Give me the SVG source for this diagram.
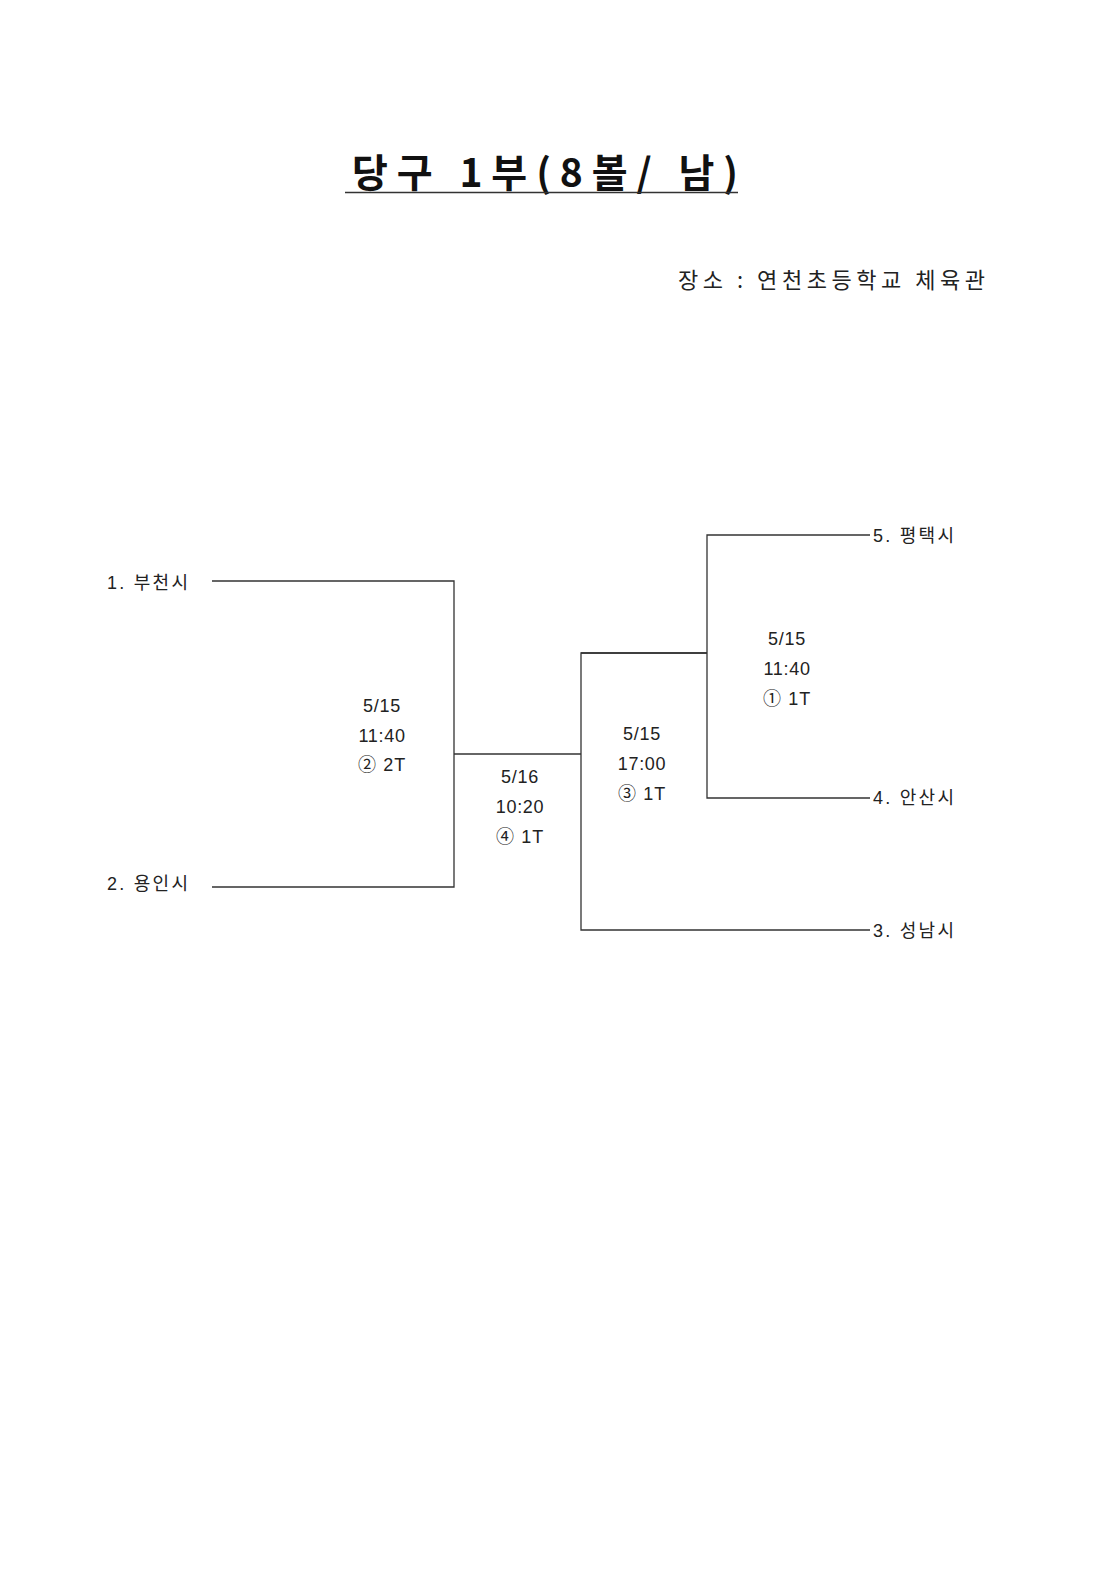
<svg xmlns="http://www.w3.org/2000/svg" width="1120" height="1584" viewBox="0 0 1120 1584">
<style>
.t{font-family:"Liberation Sans","Noto Sans CJK KR",sans-serif;font-size:18px;fill:#222;text-anchor:middle;letter-spacing:0.7px}
.n{font-family:"Liberation Sans","Noto Sans CJK KR",sans-serif;font-size:18px;fill:#222}
.ln{stroke:#333;stroke-width:1.3;fill:none}
</style>
<rect width="1120" height="1584" fill="#fff"/>
<g id="title">
<text x="352" y="187" textLength="386" lengthAdjust="spacing" font-family="'Noto Sans CJK KR',sans-serif" font-size="39" font-weight="bold" fill="#111">당구 1부(8볼/ 남)</text>
<line x1="345" y1="192.5" x2="738" y2="192.5" stroke="#333" stroke-width="1.5"/>
</g>
<g id="venue">
<text x="678" y="288" textLength="307" lengthAdjust="spacing" font-family="'Noto Sans CJK KR',sans-serif" font-size="22" fill="#222">장소 : 연천초등학교 체육관</text>
</g>
<g id="connectors">
<polyline class="ln" points="212,581 454,581 454,887 212,887"/>
<line class="ln" x1="454" y1="754" x2="581" y2="754"/>
<polyline class="ln" points="870,535 707,535 707,798 870,798"/>
<line class="ln" x1="581" y1="653" x2="707" y2="653"/>
<polyline class="ln" points="707,653 581,653 581,930 870,930"/>
</g>
<g id="team1"><text class="n" x="107" y="589" textLength="81" lengthAdjust="spacing">1. 부천시</text></g>
<g id="team2"><text class="n" x="107" y="890" textLength="81" lengthAdjust="spacing">2. 용인시</text></g>
<g id="team3"><text class="n" x="873" y="937" textLength="81" lengthAdjust="spacing">3. 성남시</text></g>
<g id="team4"><text class="n" x="873" y="804" textLength="81" lengthAdjust="spacing">4. 안산시</text></g>
<g id="team5"><text class="n" x="873" y="542" textLength="81" lengthAdjust="spacing">5. 평택시</text></g>
<g id="match2">
<text class="t" x="382" y="712">5/15</text>
<text class="t" x="382" y="742">11:40</text>
<text class="t" x="382" y="771" textLength="48" lengthAdjust="spacing">② 2T</text>
</g>
<g id="match4">
<text class="t" x="520" y="783">5/16</text>
<text class="t" x="520" y="813">10:20</text>
<text class="t" x="520" y="843" textLength="48" lengthAdjust="spacing">④ 1T</text>
</g>
<g id="match3">
<text class="t" x="642" y="740">5/15</text>
<text class="t" x="642" y="770">17:00</text>
<text class="t" x="642" y="800" textLength="48" lengthAdjust="spacing">③ 1T</text>
</g>
<g id="match1">
<text class="t" x="787" y="645">5/15</text>
<text class="t" x="787" y="675">11:40</text>
<text class="t" x="787" y="705" textLength="48" lengthAdjust="spacing">① 1T</text>
</g>
</svg>
